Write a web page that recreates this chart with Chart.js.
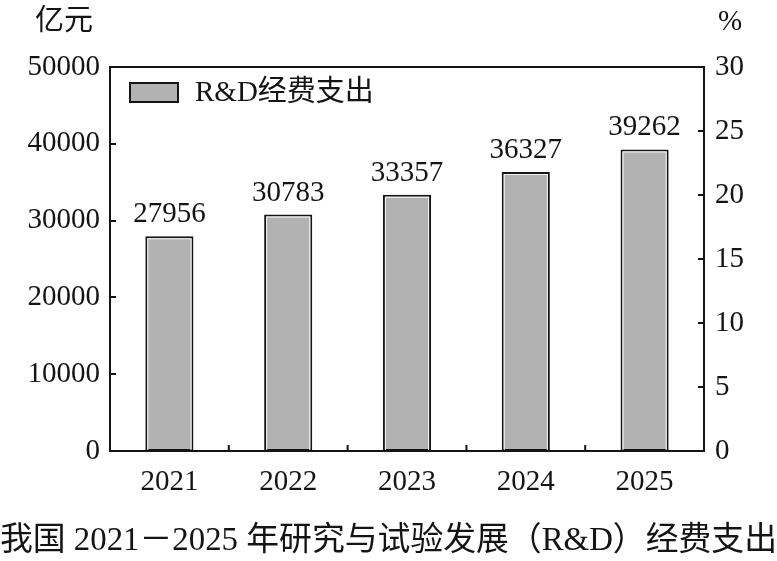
<!DOCTYPE html>
<html>
<head>
<meta charset="utf-8">
<script src="https://cdn.jsdelivr.net/npm/chart.js@4/dist/chart.umd.min.js"></script>
<style>
html,body{margin:0;padding:0;background:#fff;}
#wrap{width:777px;height:561px;position:relative;}
</style>
</head>
<body>
<div id="wrap"><canvas id="c" width="777" height="561"></canvas></div>
<script>
const categories = ['2021', '2022', '2023', '2024', '2025'];
const rdSpending = [27956, 30783, 33357, 36327, 39262];
const leftTicks = [0, 10000, 20000, 30000, 40000, 50000];
const rightTicks = [0, 5, 10, 15, 20, 25, 30];
const seriesName = 'R&D经费支出';
const leftUnit = '亿元';
const rightUnit = '%';
const chartTitle = '我国 2021－2025 年研究与试验发展（R&D）经费支出';

const FONT = "'Liberation Serif', 'Noto Sans CJK SC', serif";
const INK = '#141414';
const BAR_FILL = '#b2b2b2';
const FS = 29;
const TITLE_FS = 33;

const decor = {
  id: 'decor',
  afterDatasetsDraw(chart) {
    const ctx = chart.ctx;
    const a = chart.chartArea;
    const meta = chart.getDatasetMeta(0);
    ctx.save();
    meta.data.forEach((bar, i) => {
      const p = bar.getProps(['x', 'y', 'base', 'width'], true);
      const l = p.x - p.width / 2 + 2.5, r = p.x + p.width / 2 - 2.5;
      ctx.strokeStyle = '#f4f4f4';
      ctx.lineWidth = 1;
      ctx.strokeRect(l, p.y + 2.5, r - l, p.base - p.y - 3);
      ctx.fillStyle = INK;
      ctx.font = FS + 'px ' + FONT;
      ctx.textAlign = 'center';
      ctx.textBaseline = 'alphabetic';
      ctx.fillText(String(rdSpending[i]), p.x, p.y - 14);
    });
    ctx.strokeStyle = INK;
    ctx.lineWidth = 2;
    ctx.strokeRect(a.left, a.top, a.right - a.left, a.bottom - a.top);
    const y = chart.scales.y, y1 = chart.scales.y1, x = chart.scales.x;
    leftTicks.forEach(v => {
      const py = Math.round(y.getPixelForValue(v));
      ctx.beginPath(); ctx.moveTo(a.left, py); ctx.lineTo(a.left + 6, py); ctx.stroke();
    });
    rightTicks.forEach(v => {
      const py = Math.round(y1.getPixelForValue(v));
      ctx.beginPath(); ctx.moveTo(a.right, py); ctx.lineTo(a.right - 6, py); ctx.stroke();
    });
    for (let i = 0; i < categories.length - 1; i++) {
      const px = (x.getPixelForValue(i) + x.getPixelForValue(i + 1)) / 2;
      ctx.beginPath(); ctx.moveTo(px, a.bottom); ctx.lineTo(px, a.bottom - 6); ctx.stroke();
    }
    ctx.fillStyle = BAR_FILL;
    ctx.fillRect(a.left + 20, a.top + 16, 48, 19);
    ctx.strokeStyle = INK;
    ctx.lineWidth = 2;
    ctx.strokeRect(a.left + 20, a.top + 16, 48, 19);
    ctx.fillStyle = INK;
    ctx.font = FS + 'px ' + FONT;
    ctx.textAlign = 'left';
    ctx.textBaseline = 'middle';
    ctx.fillText(seriesName, a.left + 85, a.top + 26);
    ctx.font = FS + 'px ' + FONT;
    ctx.textAlign = 'center';
    ctx.fillText(leftUnit, 64, 22);
    ctx.fillText(rightUnit, 730, 22);
    ctx.restore();
  }
};

new Chart(document.getElementById('c'), {
  type: 'bar',
  data: {
    labels: categories,
    datasets: [{
      label: seriesName,
      data: rdSpending,
      backgroundColor: BAR_FILL,
      borderColor: INK,
      borderWidth: 2,
      borderSkipped: false,
      categoryPercentage: 1,
      barPercentage: 0.405,
      yAxisID: 'y'
    }]
  },
  options: {
    responsive: false,
    animation: false,
    devicePixelRatio: 1,
    layout: { padding: { top: 67, left: 0, right: 0, bottom: 0 } },
    plugins: {
      legend: { display: false },
      tooltip: { enabled: false },
      title: {
        display: true,
        position: 'bottom',
        text: chartTitle,
        color: INK,
        font: { family: FONT, size: TITLE_FS, weight: 'normal' },
        padding: { top: 0, bottom: 0 }
      }
    },
    scales: {
      x: {
        grid: { display: false, drawTicks: false },
        border: { display: false },
        ticks: { color: INK, font: { family: FONT, size: FS }, padding: 14, maxRotation: 0 },
        afterFit(s) { s.height = 561 - 451 - (TITLE_FS * 1.2); }
      },
      y: {
        position: 'left',
        min: 0, max: 50000,
        grid: { display: false, drawTicks: false },
        border: { display: false },
        ticks: { stepSize: 10000, color: INK, font: { family: FONT, size: FS }, padding: 10,
                 callback: v => String(v) },
        afterFit(s) { s.width = 110; }
      },
      y1: {
        position: 'right',
        min: 0, max: 30,
        grid: { display: false, drawTicks: false },
        border: { display: false },
        ticks: { stepSize: 5, color: INK, font: { family: FONT, size: FS }, padding: 11,
                 callback: v => String(v) },
        afterFit(s) { s.width = 73; }
      }
    }
  },
  plugins: [decor]
});
</script>
</body>
</html>
